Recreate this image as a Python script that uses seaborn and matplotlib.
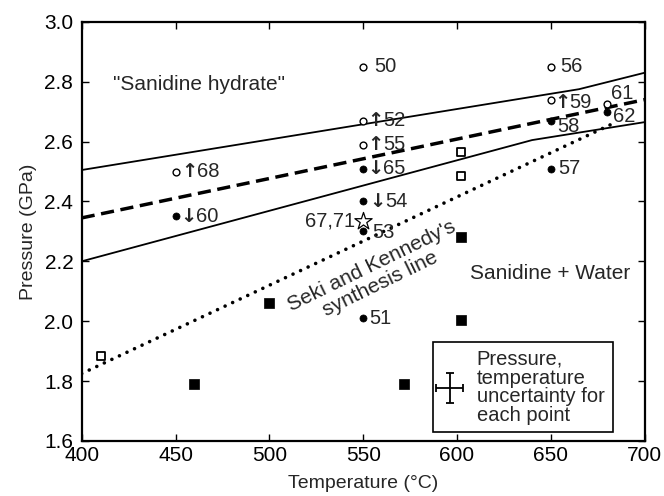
import matplotlib
matplotlib.use("Agg")
import matplotlib.pyplot as plt
import seaborn as sns
from matplotlib.patches import Rectangle

# ---------------- data ----------------
open_circle_T = [550, 650, 550, 550, 450, 650, 680]
open_circle_P = [2.85, 2.85, 2.67, 2.59, 2.50, 2.74, 2.725]
open_circle_lab = ["50", "56", "↑52", "↑55", "↑68", "↑59", "61"]

filled_circle_T = [550, 550, 550, 550, 450, 650, 650, 680]
filled_circle_P = [2.51, 2.40, 2.30, 2.01, 2.35, 2.67, 2.51, 2.70]
filled_circle_lab = ["↓65", "↓54", "53", "51", "↓60", "58", "57", "62"]

star_T = [550]
star_P = [2.335]
star_lab = ["67,71"]

open_square_T = [602, 602, 410.5]
open_square_P = [2.565, 2.485, 1.885]

filled_square_T = [602, 602, 500, 460, 572]
filled_square_P = [2.28, 2.005, 2.062, 1.79, 1.79]

upper_T = [400, 665, 700]
upper_P = [2.505, 2.775, 2.83]
mid_T = [400, 700]
mid_P = [2.345, 2.74]
lower_T = [400, 640, 700]
lower_P = [2.20, 2.605, 2.665]
seki_T = [400, 683]
seki_P = [1.825, 2.66]

x_ticks = [400, 450, 500, 550, 600, 650, 700]
y_ticks = [1.6, 1.8, 2.0, 2.2, 2.4, 2.6, 2.8, 3.0]

# label offsets in points (layout only); for arrow labels dx is the arrow centre
open_off = [(8, 0), (6.5, 0), (9, 0), (9, 0), (10, 0), (8, -2), (2.5, 8)]
filled_off = [(9, 0), (10.5, 0), (6.5, -1), (4.3, 0), (9.5, 0), (4.3, -4.5), (5, 0), (4.3, -3.5)]

# ---------------- style ----------------
sns.set_theme(style="ticks")
FAM = ["Liberation Sans", "DejaVu Sans"]
plt.rcParams["font.family"] = FAM
FS = 14.5

fig = plt.figure(figsize=(6.64, 4.96), dpi=100)
ax = fig.add_axes([0.123, 0.111, 0.848, 0.845])

# lines
for T, P, kind in [(upper_T, upper_P, "solid"), (lower_T, lower_P, "solid"),
                   (mid_T, mid_P, "dash"), (seki_T, seki_P, "dot")]:
    sns.lineplot(x=T, y=P, ax=ax, color="black", sort=False, estimator=None)
    ln = ax.lines[-1]
    if kind == "solid":
        ln.set_linewidth(1.3)
    elif kind == "dash":
        ln.set_linewidth(2.5)
        ln.set_dashes([3.8, 1.9])
    else:
        ln.set_linewidth(2.6)
        ln.set_dashes([0.01, 2.3])
        ln.set_dash_capstyle("round")

# markers
sns.scatterplot(x=open_circle_T, y=open_circle_P, ax=ax, marker="o", s=24,
                facecolor="white", edgecolor="black", linewidth=1.0, zorder=5)
sns.scatterplot(x=filled_circle_T, y=filled_circle_P, ax=ax, marker="o", s=26,
                color="black", edgecolor="black", linewidth=0.5, zorder=5)
sns.scatterplot(x=open_square_T, y=open_square_P, ax=ax, marker="s", s=40,
                facecolor="white", edgecolor="black", linewidth=1.3, zorder=5)
sns.scatterplot(x=filled_square_T, y=filled_square_P, ax=ax, marker="s", s=62,
                color="black", edgecolor="black", linewidth=0.5, zorder=5)
sns.scatterplot(x=star_T, y=star_P, ax=ax, marker="*", s=170,
                facecolor="white", edgecolor="black", linewidth=0.9, zorder=5)


def put_label(T, P, lab, off):
    dx, dy = off
    if lab[0] in "↑↓":
        ax.annotate(lab[0], (T, P), xytext=(dx, dy), textcoords="offset points",
                    ha="center", va="center", fontsize=14, fontweight="bold",
                    family=["DejaVu Sans"], zorder=6)
        ax.annotate(lab[1:], (T, P), xytext=(dx + 5.5, dy), textcoords="offset points",
                    ha="left", va="center", fontsize=FS, family=FAM, zorder=6)
    else:
        ax.annotate(lab, (T, P), xytext=(dx, dy), textcoords="offset points",
                    ha="left", va="center", fontsize=FS, family=FAM, zorder=6)


for T, P, lab, off in zip(open_circle_T, open_circle_P, open_circle_lab, open_off):
    put_label(T, P, lab, off)
for T, P, lab, off in zip(filled_circle_T, filled_circle_P, filled_circle_lab, filled_off):
    put_label(T, P, lab, off)
for T, P, lab in zip(star_T, star_P, star_lab):
    ax.annotate(lab, (T, P), xytext=(-6, 0), textcoords="offset points",
                ha="right", va="center", fontsize=FS, family=FAM, zorder=6)

# region texts
ax.text(416.5, 2.79, '"Sanidine hydrate"', ha="left", va="center", fontsize=15)
ax.text(607, 2.16, "Sanidine + Water", ha="left", va="center", fontsize=15)
ax.text(557, 2.155, "Seki and Kennedy's\nsynthesis line", ha="center", va="center",
        rotation=26, rotation_mode="anchor", multialignment="center",
        fontsize=15, linespacing=1.05)

# uncertainty box
ax.add_patch(Rectangle((587.2, 1.63), 95.8, 0.30, facecolor="white",
                       edgecolor="black", linewidth=1.2, zorder=7))
ax.errorbar([596], [1.777], xerr=[7.3], yerr=[0.05], fmt="none", ecolor="black",
            elinewidth=1.3, capsize=3, capthick=1.3, zorder=8)
ax.text(610.5, 1.779, "Pressure,\ntemperature\nuncertainty for\neach point",
        ha="left", va="center", fontsize=14.5, linespacing=0.98, zorder=8)

# axes
ax.set_xlim(400, 700)
ax.set_ylim(1.6, 3.0)
ax.set_xticks(x_ticks)
ax.set_yticks(y_ticks)
ax.set_yticklabels([f"{v:.1f}" for v in y_ticks])
ax.tick_params(direction="in", top=True, right=True, length=5, width=1,
               labelsize=15, colors="black")
ax.tick_params(axis="y", pad=6)
ax.tick_params(axis="x", pad=4)
for sp in ax.spines.values():
    sp.set_linewidth(1.6)
    sp.set_color("black")
    sp.set_visible(True)
ax.set_xlabel("Temperature (°C)", fontsize=14, labelpad=7)
ax.set_ylabel("Pressure (GPa)", fontsize=14, labelpad=5)

fig.savefig("out.png", dpi=100)
